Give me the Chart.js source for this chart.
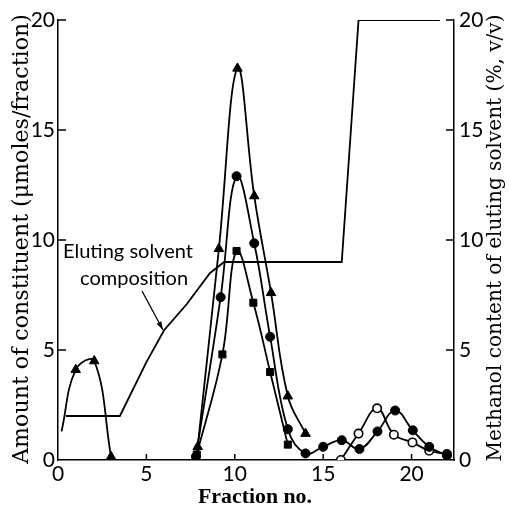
<!DOCTYPE html>
<html>
<head>
<meta charset="utf-8">
<script src="https://cdn.jsdelivr.net/npm/chart.js@4/dist/chart.umd.min.js"></script>
<style>
  html, body { margin: 0; padding: 0; background: #fff; }
  #wrap { width: 509px; height: 515px; }
</style>
</head>
<body>
<div id="wrap"><canvas id="chart" width="509" height="515"></canvas></div>
<script>
// values (fraction no. vs amount / methanol %)
const triEarlyX = [0.2, 1.0, 2.05, 3.0];
const triEarlyY = [1.3, 4.1, 4.5, 0.15];
const triMainX = [7.9, 9.1, 10.15, 11.1, 12.05, 13.0, 14.0];
const triMainY = [0.6, 9.6, 17.8, 12.0, 7.6, 2.9, 1.2];
const dotX = [7.8, 9.2, 10.1, 11.1, 12.0, 13.0, 14.0, 15.0, 16.05, 17.05, 18.07, 19.07, 20.07, 21.0, 22.0];
const dotY = [0.15, 7.4, 12.9, 9.85, 5.6, 1.4, 0.3, 0.6, 0.9, 0.5, 1.3, 2.25, 1.35, 0.6, 0.2];
const squareX = [7.85, 9.3, 10.1, 11.05, 12.0, 13.0];
const squareY = [0.25, 4.8, 9.5, 7.15, 4.0, 0.7];
const openX = [16.0, 17.0, 18.05, 19.0, 20.05, 21.0, 22.0];
const openY = [0.0, 1.2, 2.35, 1.15, 0.8, 0.42, 0.27];
const solventX = [0.45, 3.5, 5.0, 6.0, 7.3, 8.6, 9.4, 16.05, 17.0, 21.6];
const solventY = [2.0, 2.0, 4.45, 5.9, 7.1, 8.5, 9.0, 9.0, 20.0, 20.0];
const tickValues = [0, 5, 10, 15, 20];

const pts = (xs, ys) => xs.map((x, i) => ({ x: x, y: ys[i] }));

function curve(xs, ys, style, extra) {
  return Object.assign({
    data: pts(xs, ys),
    borderColor: '#000',
    borderWidth: 1.8,
    pointStyle: style,
    pointRadius: 5,
    pointBackgroundColor: '#000',
    pointBorderColor: '#000',
    pointBorderWidth: 1,
    tension: 0.4,
    fill: false,
    yAxisID: 'y'
  }, extra || {});
}

// inward tick marks, axis titles and the solvent annotation
const decor = {
  id: 'decor',
  afterDraw(chart) {
    const ctx = chart.ctx;
    const xs = chart.scales.x, ys = chart.scales.y, ys2 = chart.scales.y2;
    const a = chart.chartArea;
    ctx.save();
    ctx.strokeStyle = '#000';
    ctx.lineWidth = 1.5;
    ctx.beginPath();
    tickValues.slice(1).forEach(v => {
      const px = xs.getPixelForValue(v);
      ctx.moveTo(px, a.bottom); ctx.lineTo(px, a.bottom - 6);
      const py = ys.getPixelForValue(v);
      ctx.moveTo(a.left, py); ctx.lineTo(a.left + 8, py);
      const py2 = ys2.getPixelForValue(v);
      ctx.moveTo(a.right, py2); ctx.lineTo(a.right - 8, py2);
    });
    ctx.stroke();

    ctx.fillStyle = '#000';
    function fitText(text, weight, family, target) {
      ctx.font = weight + ' 20px ' + family;
      const size = 20 * target / ctx.measureText(text).width;
      ctx.font = weight + ' ' + size.toFixed(2) + 'px ' + family;
    }
    ctx.textAlign = 'center';
    ctx.textBaseline = 'middle';

    const leftTitle = 'Amount of constituent (\u03bcmoles/fraction)';
    ctx.save();
    ctx.translate(22, 239);
    ctx.rotate(-Math.PI / 2);
    fitText(leftTitle, 'normal', '"DejaVu Serif"', 450);
    ctx.fillText(leftTitle, 0, 0);
    ctx.restore();

    const rightTitle = 'Methanol content of eluting solvent (%, v/v)';
    ctx.save();
    ctx.translate(496, 238);
    ctx.rotate(-Math.PI / 2);
    fitText(rightTitle, 'normal', '"DejaVu Serif"', 447);
    ctx.fillText(rightTitle, 0, 0);
    ctx.restore();

    fitText('Fraction no.', 'bold', '"Liberation Serif"', 114);
    ctx.fillText('Fraction no.', 255, 497);

    ctx.textAlign = 'left';
    fitText('Eluting solvent', 'normal', 'Lato', 130);
    ctx.fillText('Eluting solvent', 63, 252);
    ctx.fillText('composition', 80, 279);

    // arrow to the gradient line
    const x1 = 142, y1 = 291, x2 = 163, y2 = 330;
    ctx.lineWidth = 1.3;
    ctx.beginPath();
    ctx.moveTo(x1, y1); ctx.lineTo(x2, y2);
    ctx.stroke();
    const ang = Math.atan2(y2 - y1, x2 - x1);
    ctx.beginPath();
    ctx.moveTo(x2, y2);
    ctx.lineTo(x2 - 9 * Math.cos(ang - 0.3), y2 - 9 * Math.sin(ang - 0.3));
    ctx.lineTo(x2 - 9 * Math.cos(ang + 0.3), y2 - 9 * Math.sin(ang + 0.3));
    ctx.closePath();
    ctx.fill();
    ctx.restore();
  }
};

const tickFont = { family: 'Lato', size: 21 };

new Chart(document.getElementById('chart'), {
  type: 'line',
  data: {
    datasets: [
      curve(triEarlyX, triEarlyY, 'triangle', { pointRadius: [0, 5.5, 5.5, 5.5] }),
      curve(triMainX, triMainY, 'triangle', { pointRadius: 5.5 }),
      curve(dotX, dotY, 'circle', { pointRadius: 4.5 }),
      curve(squareX, squareY, 'rect', { pointRadius: 5 }),
      curve(openX, openY, 'circle', { pointRadius: 4.2, pointBackgroundColor: '#fff', pointBorderWidth: 1.6 }),
      {
        data: pts(solventX, solventY),
        borderColor: '#000',
        borderWidth: 1.8,
        pointRadius: 0,
        tension: 0,
        fill: false,
        yAxisID: 'y2'
      }
    ]
  },
  options: {
    responsive: false,
    animation: false,
    layout: { padding: { top: 20, left: 0, right: 0, bottom: 0 } },
    plugins: { legend: { display: false }, tooltip: { enabled: false } },
    scales: {
      x: {
        type: 'linear',
        min: 0,
        max: 22.4,
        grid: { display: false, drawTicks: false },
        border: { display: true, color: '#000', width: 1.5 },
        ticks: { stepSize: 5, includeBounds: false, color: '#000', font: tickFont, padding: 2, maxRotation: 0 },
        afterFit(s) { s.height = 55; }
      },
      y: {
        position: 'left',
        min: 0,
        max: 20,
        grid: { display: false, drawTicks: false },
        border: { display: true, color: '#000', width: 1.5 },
        ticks: { stepSize: 5, color: '#000', font: tickFont, padding: 3 },
        afterFit(s) { s.width = 58; }
      },
      y2: {
        position: 'right',
        min: 0,
        max: 20,
        grid: { display: false, drawTicks: false },
        border: { display: true, color: '#000', width: 1.5 },
        ticks: { stepSize: 5, color: '#000', font: tickFont, padding: 5 },
        afterFit(s) { s.width = 55; }
      }
    }
  },
  plugins: [decor]
});
</script>
</body>
</html>
